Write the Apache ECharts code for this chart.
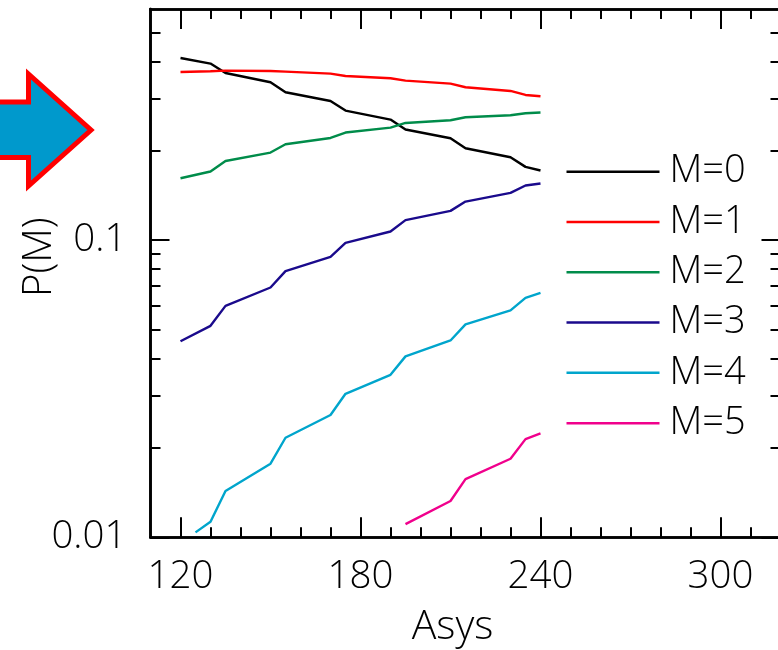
<!DOCTYPE html>
<html>
<head>
<meta charset="utf-8">
<style>html,body{margin:0;padding:0;background:#fff}#c{width:778px;height:650px}</style>
<script src="https://cdn.jsdelivr.net/npm/echarts@6/dist/echarts.min.js"></script>
</head>
<body>
<div id="c"></div>
<script>
const asys = [120,130,135,150,155,170,175,190,195,210,215,230,235,240];
const m0 = [.4104,.3931,.3654,.3400,.3147,.2942,.2731,.2547,.2358,.2203,.2040,.1902,.1765,.1716];
const m1 = [.3683,.3703,.3723,.3712,.3694,.3637,.3570,.3507,.3445,.3366,.3271,.3179,.3082,.3051];
const m2 = [.1616,.1703,.1848,.1972,.2103,.2208,.2303,.2393,.2481,.2533,.2593,.2634,.2675,.2689];
const m3 = [.0457,.0515,.0601,.0693,.0787,.0879,.0979,.1070,.1168,.1255,.1349,.1443,.1528,.1551];
const asysM4 = [125,130,135,150,155,170,175,190,195,210,215,230,235,240];
const m4 = [.01039,.01128,.01431,.01769,.02163,.02580,.03041,.03524,.04064,.04598,.05207,.05802,.06397,.06649];
const asysM5 = [195,210,215,230,235,240];
const m5 = [.01108,.01325,.01570,.01838,.02140,.02237];
const seriesNames = ['M=0','M=1','M=2','M=3','M=4','M=5'];
const seriesColors = ['#000000','#ff0000','#008c4a','#1a0a8c','#00a5cc','#f0008c'];
const xMajor = [120,180,240,300];
const xMinor = [130,140,150,160,170,190,200,210,220,230,250,260,270,280,290,310];
const yMajor = [0.01,0.1];
const yMinor = [0.02,0.03,0.04,0.05,0.06,0.07,0.08,0.09,0.2,0.3,0.4,0.5];

const FONT = 'Open Sans';
const FW = 300;
const FS = 38.5;
const XMIN = 110, XMAX = 320, YMIN = 0.01, YMAX = 0.6;
const line = {lineStyle:{color:'#000',width:2.6}};
const tick = (len, vals) => ({show:true, inside:true, length:len, customValues:vals, lineStyle:{color:'#000',width:2}});

function xAxis(pos, len, vals, labels, name){
  return {type:'value', position:pos, min:XMIN, max:XMAX, splitLine:{show:false}, axisLine:line,
    axisTick:tick(len, vals), minorTick:{show:false},
    axisLabel: labels ? {show:true, customValues:labels, margin:20, fontFamily:FONT, fontWeight:FW, fontSize:FS, color:'#000', formatter:v=>String(v)} : {show:false},
    name: name||'', nameLocation:'middle', nameGap:70, nameMoveOverlap:false,
    nameTextStyle:{fontFamily:FONT, fontWeight:FW, fontSize:41, color:'#000', padding:[0,26,0,0]}};
}
function yAxis(pos, len, vals, labels, name){
  return {type:'log', logBase:10, position:pos, min:YMIN, max:YMAX, splitLine:{show:false}, axisLine:line,
    axisTick:tick(len, vals), minorTick:{show:false},
    axisLabel: labels ? {show:true, customValues:labels, margin:24, fontFamily:FONT, fontWeight:FW, fontSize:FS, color:'#000', padding:[0,0,4,0], formatter:v=>String(v)} : {show:false},
    name: name||'', nameLocation:'middle', nameGap:91, nameRotate:90, nameMoveOverlap:false,
    nameTextStyle:{fontFamily:FONT, fontWeight:FW, fontSize:40, color:'#000', padding:[0,0,0,32]}};
}
const xs = [asys,asys,asys,asys,asysM4,asysM5];
const ys = [m0,m1,m2,m3,m4,m5];

const chart = echarts.init(document.getElementById('c'), null, {renderer:'canvas'});
chart.setOption({
  animation:false,
  backgroundColor:'#fff',
  grid:{left:150.5, top:9, width:630, height:528.3, containLabel:false, outerBoundsMode:'none'},
  xAxis:[
    xAxis('bottom',20,xMajor,xMajor,'Asys'),
    xAxis('bottom',10,xMinor),
    xAxis('top',20,xMajor),
    xAxis('top',10,xMinor)
  ],
  yAxis:[
    yAxis('left',19,yMajor,yMajor,'P(M)'),
    yAxis('left',10,yMinor),
    yAxis('right',19,yMajor),
    yAxis('right',10,yMinor)
  ],
  legend:{
    show:true, orient:'vertical', left:566.5, top:146.5, padding:0, icon:'rect', itemWidth:93, itemHeight:2.5, itemGap:0,
    align:'left', selectedMode:false,
    textStyle:{fontFamily:FONT, fontWeight:FW, fontSize:38, lineHeight:50.3, color:'#000', padding:[0,0,0,5]},
    data:seriesNames
  },
  graphic:[{
    type:'polygon', silent:true,
    shape:{points:[[-6,102],[28.5,102],[28.5,74],[91,130],[28.5,186],[28.5,157.5],[-6,157.5]]},
    style:{fill:'#0099cc', stroke:'#ff0000', lineWidth:5, lineJoin:'miter'}
  }],
  series: seriesNames.map((n,i)=>({
    name:n, type:'line', symbol:'none', smooth:false, xAxisIndex:0, yAxisIndex:0,
    data: xs[i].map((x,j)=>[x, ys[i][j]]),
    lineStyle:{color:seriesColors[i], width:2.4}, itemStyle:{color:seriesColors[i]}
  }))
});
</script>
</body>
</html>
